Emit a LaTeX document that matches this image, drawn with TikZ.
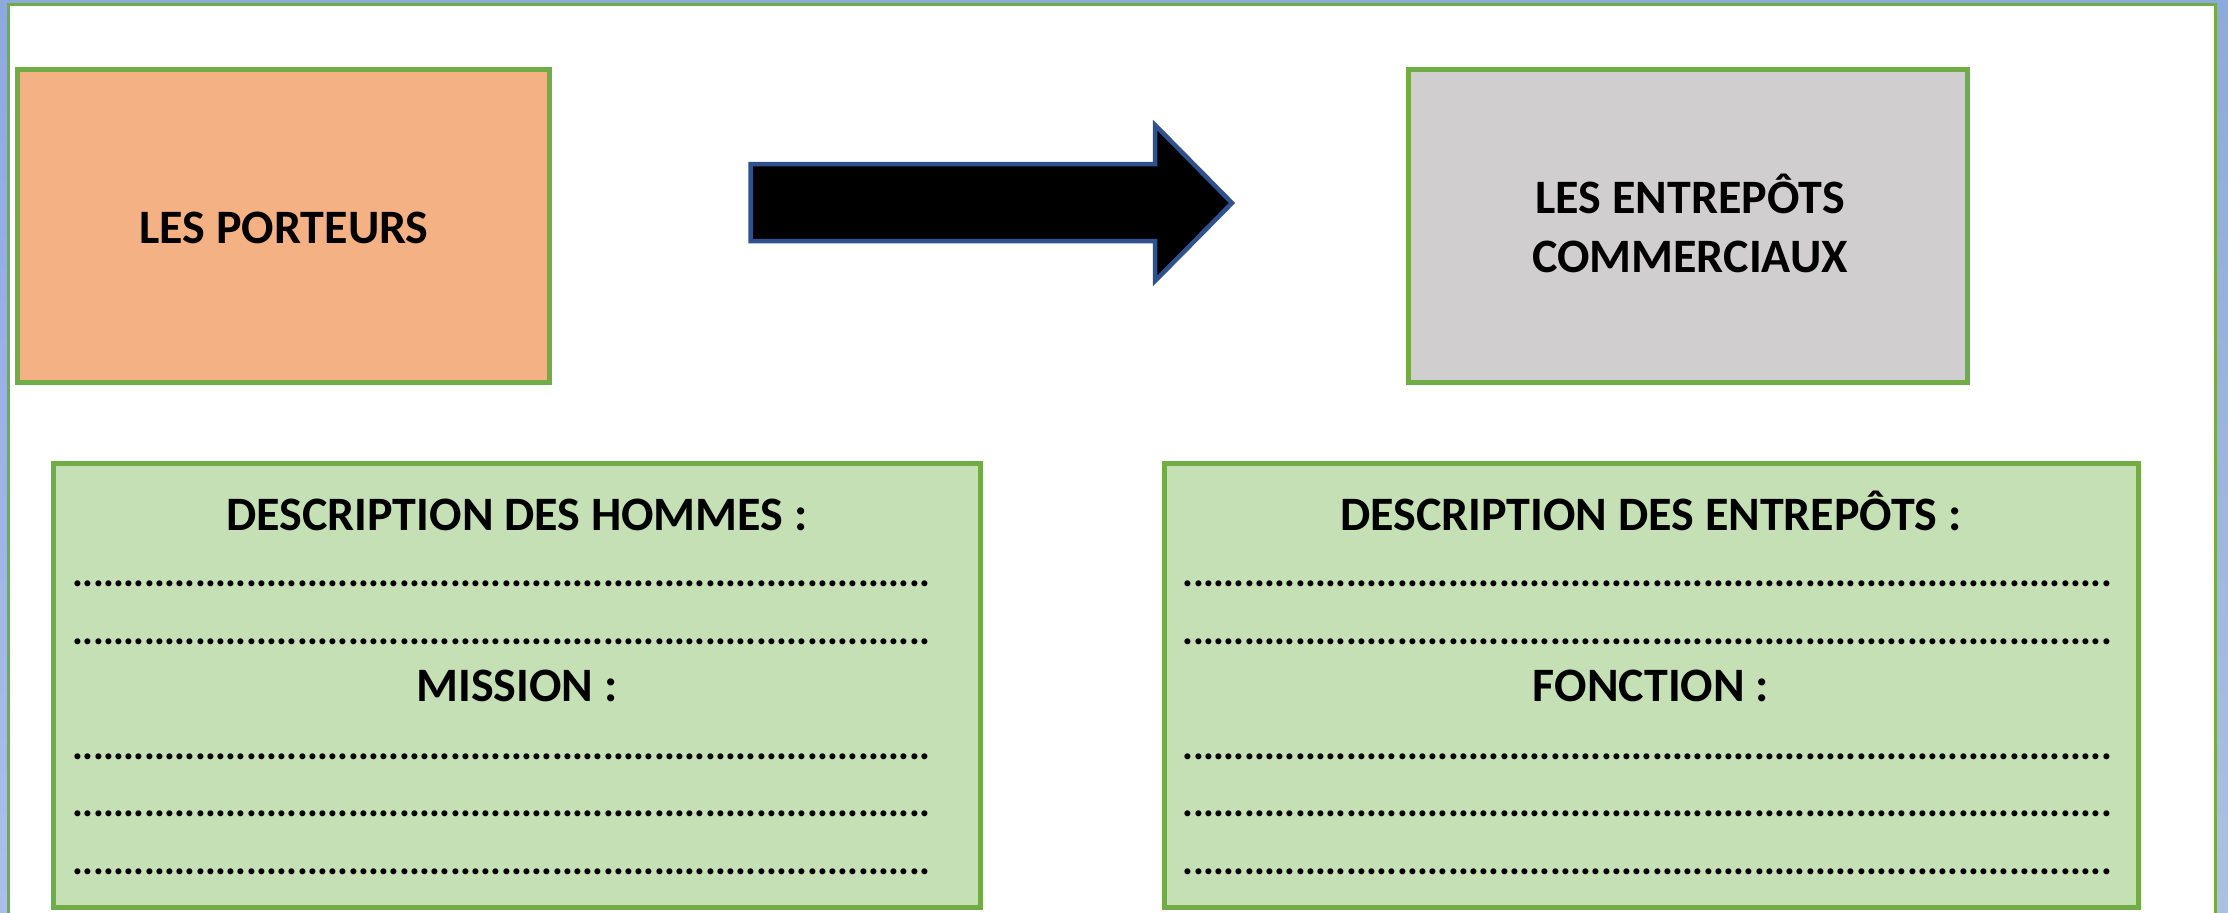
\documentclass[tikz,border=0pt]{standalone}
\usepackage{fontspec}
\setmainfont{Carlito}
\definecolor{bgtop}{HTML}{8EA9DB}
\definecolor{bgbot}{HTML}{ABC0E4}
\definecolor{boxgreen}{HTML}{70AD47}
\definecolor{porteur}{HTML}{F4B183}
\definecolor{entrepot}{HTML}{D0CECE}
\definecolor{lightgreen}{HTML}{C5E0B4}
\definecolor{arrowblue}{HTML}{2F528F}
\newlength\dotsp
\setlength\dotsp{2.902pt}
\newcommand\dotrow[1]{\count255=0\relax\loop\ifnum\count255<#1\relax\hbox to\dotsp{\hss.\hss}\advance\count255 by 1\relax\repeat}
\begin{document}
\begin{tikzpicture}[x=0.01cm,y=-0.01cm,
  box/.style={draw=boxgreen, line width=1.42pt, inner sep=0pt, outer sep=0pt},
  lbl/.style={font=\fontsize{13.65}{17}\selectfont\bfseries, inner sep=0pt, anchor=base},
  dotline/.style={font=\fontsize{11.5}{14}\selectfont\bfseries, inner sep=0pt, anchor=base west}]
\useasboundingbox (0,0) rectangle (2228,912);
\shade[top color=bgtop, bottom color=bgbot] (0,0) rectangle (2228,912);
\draw[fill=white, draw=boxgreen, line width=0.85pt] (8.5,4.5) rectangle (2215.5,940);
% boxes
\node[box, fill=porteur, minimum width=5.31cm, minimum height=3.12cm] (porteurs) at (283.5,226) {};
\node[box, fill=entrepot, minimum width=5.58cm, minimum height=3.12cm] (entrepots) at (1688,226) {};
\node[box, fill=lightgreen, minimum width=9.27cm, minimum height=4.435cm] (descL) at (517,685.75) {};
\node[box, fill=lightgreen, minimum width=9.74cm, minimum height=4.435cm] (descR) at (1651.5,685.75) {};
% arrow
\coordinate (a1) at (750.7,164);
\coordinate (a2) at (1155,164);
\coordinate (a3) at (1155,125);
\coordinate (a4) at (1232,203);
\coordinate (a5) at (1155,281);
\coordinate (a6) at (1155,241);
\coordinate (a7) at (750.7,241);
\draw[fill=black, draw=arrowblue, line width=1.28pt, line join=miter] (a1) -- (a2) -- (a3) -- (a4) -- (a5) -- (a6) -- (a7) -- cycle;
% labels
\node[lbl] (tP) at (284,243) {LES PORTEURS};
\node[lbl] (tE1) at (1690,213) {LES ENTREPÔTS};
\node[lbl] (tE2) at (1690,272) {COMMERCIAUX};
\node[lbl] (hL1) at (517,530) {DESCRIPTION DES HOMMES :};
\node[lbl] (hL2) at (517,701) {MISSION :};
\node[lbl] (hR1) at (1651,530) {DESCRIPTION DES ENTREPÔTS :};
\node[lbl] (hR2) at (1651,701) {FONCTION :};
% dotted lines
\node[dotline] (dL1) at (72.2,586.5) {\dotrow{84}};
\node[dotline] (dL2) at (72.2,644.5) {\dotrow{84}};
\node[dotline] (dL3) at (72.2,759.5) {\dotrow{84}};
\node[dotline] (dL4) at (72.2,816.5) {\dotrow{84}};
\node[dotline] (dL5) at (72.2,874.5) {\dotrow{84}};
\node[dotline] (dR1) at (1182.4,586.5) {\dotrow{91}};
\node[dotline] (dR2) at (1182.4,644.5) {\dotrow{91}};
\node[dotline] (dR3) at (1182.4,759.5) {\dotrow{91}};
\node[dotline] (dR4) at (1182.4,816.5) {\dotrow{91}};
\node[dotline] (dR5) at (1182.4,874.5) {\dotrow{91}};
\end{tikzpicture}
\end{document}
